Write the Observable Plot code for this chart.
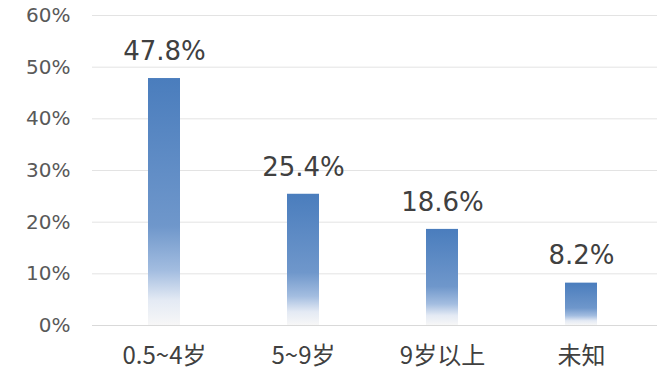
<!DOCTYPE html>
<html>
<head>
<meta charset="utf-8">
<script src="https://cdn.jsdelivr.net/npm/d3@7"></script>
<script src="https://cdn.jsdelivr.net/npm/@observablehq/plot@0.6"></script>
<style>
  html, body { margin: 0; padding: 0; background: #fff; }
  #chart svg { display: block; }
</style>
</head>
<body>
<div id="chart"></div>
<script>
const categories = ["0.5~4岁", "5~9岁", "9岁以上", "未知"];
const values = [47.8, 25.4, 18.6, 8.2];
const yTicks = [0, 10, 20, 30, 40, 50, 60];

const data = categories.map((c, i) => ({category: c, value: values[i]}));

const font = "'DejaVu Sans', 'Noto Sans CJK SC', sans-serif";
const cjkFont = "'Noto Sans CJK SC', sans-serif";

const chart = Plot.plot({
  width: 666,
  height: 377,
  marginTop: 15,
  marginBottom: 52,
  marginLeft: 92,
  marginRight: 9,
  style: {fontFamily: font, background: "#fff"},
  x: {domain: categories, range: [92, 652], paddingInner: 0.771, paddingOuter: 0.3857, label: null},
  y: {domain: [0, 60], ticks: yTicks, label: null},
  marks: [
    () => {
      const svg = d3.create("svg:g");
      const lg = svg.append("defs").append("linearGradient")
        .attr("id", "barGrad").attr("x1", 0).attr("y1", 0).attr("x2", 0).attr("y2", 1);
      [[0, "#4a7dbd"], [0.6, "#6f97cb"], [0.78, "#a3bde0"], [0.9, "#e4eaf4"], [1, "#f7f7f7"]]
        .forEach(([o, c]) => lg.append("stop").attr("offset", o).attr("stop-color", c));
      return svg.node();
    },
    Plot.gridY(yTicks, {stroke: "#e3e3e3", strokeOpacity: 1}),
    Plot.ruleY([0], {stroke: "#d9d9d9"}),
    Plot.barY(data, {x: "category", y: "value", fill: "url(#barGrad)"}),
    Plot.text(data, {x: "category", y: "value", text: d => d.value.toFixed(1) + "%",
      dy: -27, fontSize: 26, fill: "#404040", fontFamily: font}),
    Plot.axisY({ticks: yTicks, tickSize: 0, tickPadding: 22, tickFormat: d => d + "%", fontSize: 20, fill: "#595959", label: null}),
    Plot.axisX({tickSize: 0, tickPadding: 21, fontSize: 24, fill: "#404040", fontFamily: cjkFont, label: null})
  ]
});

document.getElementById("chart").appendChild(chart);
</script>
</body>
</html>
